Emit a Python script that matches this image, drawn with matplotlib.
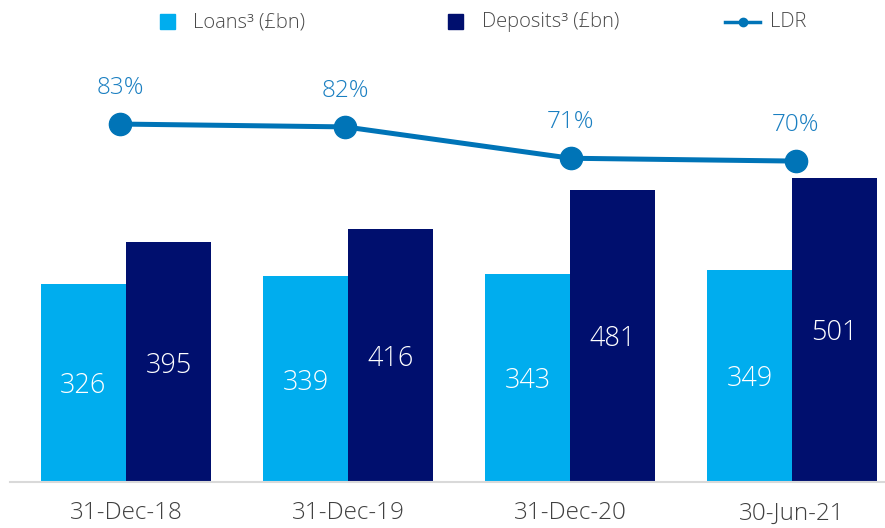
import matplotlib.pyplot as plt
from matplotlib.lines import Line2D
from matplotlib.patches import Rectangle
import numpy as np

plt.rcParams['font.family'] = ['Open Sans', 'DejaVu Sans']
plt.rcParams['font.weight'] = 'light'

periods = ['31-Dec-18', '31-Dec-19', '31-Dec-20', '30-Jun-21']
loans = [326, 339, 343, 349]
deposits = [395, 416, 481, 501]
ldr = [83, 82, 71, 70]

light = '#00adee'
navy = '#000f6e'
line_col = '#0074b7'
txt = '#4a4a4a'

fig = plt.figure(figsize=(8.85, 5.28), dpi=100)
rect = [10/885, 46/528, 875/885, 452/528]
ax = fig.add_axes(rect)

x = np.arange(len(periods))
w = 0.383
b1 = ax.bar(x - w/2, loans, w, color=light)
b2 = ax.bar(x + w/2, deposits, w, color=navy)

for bars, vals in [(b1, loans), (b2, deposits)]:
    for r, v in zip(bars, vals):
        ax.text(r.get_x() + r.get_width()/2, v/2, str(v), ha='center',
                va='center_baseline', color='white', fontsize=19.5, fontweight='light')

ax.set_xlim(-0.5225, 3.419)
ax.set_ylim(0, 744)
for s in ['top', 'right', 'left']:
    ax.spines[s].set_visible(False)
ax.spines['bottom'].set_color('#d9d9d9')
ax.spines['bottom'].set_linewidth(1.5)
ax.set_yticks([])
ax.set_xticks(x)
ax.set_xticklabels(periods, fontsize=17.5, color='#404040', fontweight='light')
ax.tick_params(axis='x', length=0, pad=14)

# loan-to-deposit ratio, drawn on an overlaid axes with its own scale
ax2 = fig.add_axes(rect)
ax2.patch.set_alpha(0)
ax2.set_xlim(-0.488, 3.395)
ax2.set_ylim(-42.6, 116)
ax2.axis('off')
ax2.plot(x, ldr, color=line_col, lw=3.6, marker='o', markersize=16, zorder=3)
for xi, v in zip(x, ldr):
    ax2.text(xi, v + 8.5, f'{v}%', ha='center', va='bottom', color='#1a7fc1',
             fontsize=17.5, fontweight='light')

# legend entries laid out along the top
ly = 1 - 22/528
sq = 15
fig.patches.append(Rectangle((160/885, ly - sq/2/528), sq/885, sq/528, color=light,
                             transform=fig.transFigure, figure=fig))
fig.text(193/885, ly, 'Loans³ (£bn)', fontsize=14.5, color=txt, va='center')
fig.patches.append(Rectangle((448/885, ly - sq/2/528), sq/885, sq/528, color=navy,
                             transform=fig.transFigure, figure=fig))
fig.text(482/885, ly, 'Deposits³ (£bn)', fontsize=14.5, color=txt, va='center')
fig.lines.append(Line2D([725/885, 760/885], [ly, ly], color=line_col, lw=2.5,
                        transform=fig.transFigure, figure=fig))
fig.lines.append(Line2D([742.5/885], [ly], color=line_col, marker='o', markersize=6,
                        transform=fig.transFigure, figure=fig))
fig.text(770/885, ly, 'LDR', fontsize=14.5, color=txt, va='center')

fig.savefig('out.png', dpi=100)
